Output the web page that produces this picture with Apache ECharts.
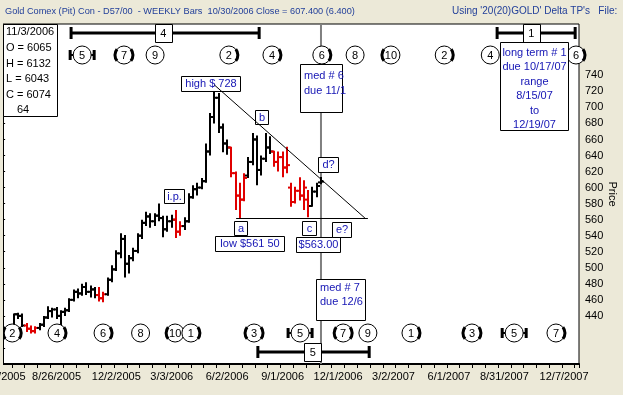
<!DOCTYPE html>
<html><head><meta charset="utf-8">
<script src="https://cdn.jsdelivr.net/npm/echarts@6/dist/echarts.min.js"></script>
<style>html,body{margin:0;padding:0;background:#ECE9D8;overflow:hidden}#c{width:623px;height:395px}</style>
</head><body><div id="c"></div>
<script>
// ---- data ----
const weekStartUTC = [2005, 4, 27];   // first weekly category: 5/27/2005
const weekCount = 136;
const tickLabels = ['5/27/2005','8/26/2005','12/2/2005','3/3/2006','6/2/2006','9/1/2006','12/1/2006','3/2/2007','6/1/2007','8/31/2007','12/7/2007'];
const firstBarWeek = 1;
const opens  = [418,421,426,442,440,428,424,421,425,429,438,446,448,440,445,447,460,470,468,476,470,473,466,462,467,485,498,518,536,505,512,521,540,556,564,558,565,562,548,558,560,545,552,558,588,598,600,608,645,688,712,675,655,650,618,590,585,615,632,660,622,636,650,645,632,638,625,600,582,596,590,585,577,595,606.5];
const highs  = [424,428,443,444,443,431,428,427,431,440,452,450,451,447,450,462,473,474,480,482,478,476,476,470,488,503,522,543,541,516,525,543,560,570,568,568,580,565,565,566,572,558,563,593,603,606,612,655,693,728,718,680,660,651,620,606,618,638,668,665,640,668,664,646,645,645,651,606,601,613,609,597,601,606,613.2];
const lows   = [415,418,424,436,426,420,418,418,422,426,436,438,436,428,440,445,458,462,465,466,463,462,458,457,465,482,496,512,488,493,508,518,536,552,550,552,558,538,545,550,537,540,547,556,586,590,598,606,640,680,668,644,641,613,572,561.5,583,612,628,603,615,632,642,626,620,613,618,576,580,584,572,563,576,588,604.3];
const closes = [421,426,442,440,428,424,421,425,429,438,446,448,440,445,447,460,470,468,476,470,473,466,462,467,485,498,518,536,505,512,521,540,556,564,558,565,562,548,558,560,545,552,558,588,598,600,608,645,688,712,675,655,650,618,590,585,612,632,660,622,636,650,645,632,638,625,628,582,596,590,600,577,595,602,607.4];
const downFlags = [0,0,0,0,0,1,1,1,0,0,0,0,0,0,0,0,0,0,0,0,0,0,1,1,0,0,0,0,0,0,0,0,0,0,0,0,0,0,0,0,1,1,0,0,0,0,0,0,0,0,0,0,0,1,1,1,1,0,0,0,0,0,0,1,1,1,1,1,1,1,1,1,0,0,0];

const topCycleWeeks  = [19,28.8,36.1,53.4,63.5,75.2,83,91.4,103.9,114.7,134.8];
const topCycleLabels = ['5','7','9','2','4','6','8','10','2','4','6'];
const topCycleMarks  = ['H','LR','','R','R','R','','L','R','','R'];
const botCycleWeeks  = [2.6,13.1,23.9,32.7,40.8,44.5,59.3,70.1,80.2,86,96.1,110.4,120.3,130.1];
const botCycleLabels = ['2','4','6','8','10','1','3','5','7','9','1','3','5','7'];
const botCycleMarks  = ['LR','R','R','','L','R','LR','H','LR','','R','LR','H','R'];

const rangeStarts = [16.4, 116.3, 60.2];
const rangeEnds   = [60.5, 134.6, 86.3];
const rangeLabelWeeks = [38, 124.3, 73.1];
const rangeLabels = ['4', '1', '5'];
const rangeRows   = ['top', 'top', 'bottom'];

const medWeek = 75;
const trendLine   = [[50, 728], [85.3, 562]];
const supportLine = [[55.1, 561.5], [86, 561.5]];

// ---- build ----
const categories = [];
const t0 = Date.UTC(weekStartUTC[0], weekStartUTC[1], weekStartUTC[2]);
for (let i = 0; i < weekCount; i++) {
  const d = new Date(t0 + i * 7 * 86400000);
  categories.push((d.getUTCMonth() + 1) + '/' + d.getUTCDate() + '/' + d.getUTCFullYear());
}
const FONT = '"Liberation Sans", Arial, sans-serif';
const BLUE = '#1414b4';
const bars = opens.map((o, i) => [firstBarWeek + i, o, highs[i], lows[i], closes[i], downFlags[i]]);

function txt(text, x, y, opts) {
  opts = opts || {};
  return {type: 'text', z: opts.z || 50, style: {text: text, x: x, y: y, fill: opts.fill || '#000',
    font: (opts.size || 11) + 'px ' + FONT, align: opts.align || 'left', textAlign: opts.align || 'left',
    verticalAlign: 'middle', textVerticalAlign: 'middle'}};
}
function box(x, y, w, h, lines, opts) {
  opts = opts || {};
  const out = [{type: 'rect', z: 49, shape: {x: x + 0.5, y: y + 0.5, width: w, height: h},
    style: {fill: '#fff', stroke: '#000', lineWidth: 1}}];
  const lh = opts.lh || 15;
  lines.forEach((s, i) => {
    const ty = y + (opts.top != null ? opts.top : h / 2 - (lines.length - 1) * lh / 2) + i * lh + 0.5;
    if (opts.align === 'left') out.push(txt(s, x + 4, ty, {fill: opts.fill || BLUE}));
    else out.push(txt(s, x + w / 2 + 0.5, ty, {fill: opts.fill || BLUE, align: 'center'}));
  });
  return out;
}

function cycleRender(rowOffset, labels, marks) {
  return function (params, api) {
    const i = api.value(1);
    const x = api.coord([api.value(0), 600])[0];
    const y = params.coordSys.y + rowOffset;
    const r = 9;
    const ch = [
      {type: 'circle', shape: {cx: x, cy: y, r: r}, style: {fill: '#fff', stroke: '#000', lineWidth: 1}},
      {type: 'text', style: {text: labels[i], x: x, y: y + 0.5, fill: '#000', font: '11px ' + FONT,
        align: 'center', textAlign: 'center', verticalAlign: 'middle', textVerticalAlign: 'middle'}}
    ];
    const m = marks[i];
    const arcSt = {stroke: '#000', lineWidth: 3, fill: 'none'};
    if (m.indexOf('L') >= 0) ch.push({type: 'arc', shape: {cx: x, cy: y, r: r, startAngle: Math.PI * 0.78, endAngle: Math.PI * 1.22, clockwise: true}, style: arcSt});
    if (m.indexOf('R') >= 0) ch.push({type: 'arc', shape: {cx: x, cy: y, r: r, startAngle: -Math.PI * 0.22, endAngle: Math.PI * 0.22, clockwise: true}, style: arcSt});
    if (m === 'H') {
      [-1, 1].forEach(s => {
        ch.push({type: 'line', shape: {x1: x + s * 12, y1: y - 5, x2: x + s * 12, y2: y + 5}, style: {stroke: '#000', lineWidth: 3}});
        ch.push({type: 'line', shape: {x1: x + s * 9, y1: y, x2: x + s * 12, y2: y}, style: {stroke: '#000', lineWidth: 2}});
      });
    }
    return {type: 'group', children: ch};
  };
}

const chart = echarts.init(document.getElementById('c'), null, {renderer: 'canvas'});

const graphics = [].concat(
  [{type: 'rect', z: 48, shape: {x: 0, y: 20, width: 3, height: 345}, style: {fill: '#ECE9D8'}},
   {type: 'line', z: 48, shape: {x1: 3.5, y1: 24, x2: 3.5, y2: 364}, style: {stroke: '#000', lineWidth: 1}}],
  [txt('Gold Comex (Pit) Con - D57/00  - WEEKLY Bars  10/30/2006 Close = 607.400 (6.400)', 5, 11, {fill: '#23409a', size: 9.2})],
  [txt("Using '20(20)GOLD' Delta TP's   File:", 452, 11, {fill: '#23409a', size: 10})],
  box(3, 24, 54, 92, [], {}),
  [txt('11/3/2006', 6, 32), txt('O = 6065', 6, 48), txt('H = 6132', 6, 64), txt('L = 6043', 6, 79), txt('C = 6074', 6, 95), txt('64', 17, 110)],
  box(181, 76, 59, 15, ['high $ 728']),
  box(255, 110, 13, 14, ['b']),
  box(164, 189, 20, 14, ['i.p.']),
  box(234, 221, 13, 14, ['a']),
  box(215, 236, 69, 15, ['low $561 50']),
  box(302, 221, 14, 14, ['c']),
  box(296, 237, 44, 15, ['$563.00']),
  box(318, 157, 20, 15, ['d?']),
  box(332, 222, 19, 15, ['e?']),
  box(300, 64, 42, 48, ['med # 6', 'due 11/1'], {align: 'left', top: 11}),
  box(316, 279, 49, 41, ['med # 7', 'due 12/6'], {align: 'left', top: 8, lh: 14}),
  box(500, 42, 68, 88, ['long term # 1', 'due 10/17/07', 'range', '8/15/07', 'to', '12/19/07'], {top: 10, lh: 14.5})
);

chart.setOption({
  backgroundColor: '#ECE9D8',
  animation: false,
  textStyle: {fontFamily: FONT},
  grid: {left: -1, right: 44, top: 24, bottom: 31, show: true, backgroundColor: '#fff', borderColor: '#000', borderWidth: 1,
         containLabel: false, outerBoundsMode: 'none'},
  xAxis: [
    {type: 'category', data: categories, boundaryGap: true,
     axisLine: {lineStyle: {color: '#000', width: 2}},
     axisTick: {show: true, interval: 2, length: 4, lineStyle: {color: '#000'}},
     axisLabel: {interval: (idx, val) => tickLabels.indexOf(val) >= 0, color: '#000', fontSize: 11, margin: 7, fontFamily: FONT},
     splitLine: {show: false}},
    {type: 'value', min: -0.5, max: weekCount - 0.5, show: false}
  ],
  yAxis: {type: 'value', position: 'right', min: 380, max: 804, interval: 20,
    name: 'Price', nameLocation: 'middle', nameRotate: -90, nameGap: 28, nameMoveOverlap: false,
    nameTextStyle: {color: '#000', fontSize: 11, fontFamily: FONT},
    axisLine: {show: true, lineStyle: {color: '#000', width: 1}},
    axisTick: {show: true, length: 4, lineStyle: {color: '#000'}},
    minorTick: {show: true, splitNumber: 4, length: 2, lineStyle: {color: '#000'}},
    axisLabel: {color: '#000', fontSize: 11, margin: 6, fontFamily: FONT,
      formatter: v => (v >= 440 && v <= 740) ? String(v) : '', showMaxLabel: false},
    splitLine: {show: false}},
  graphic: {elements: graphics},
  series: [
    {type: 'custom', name: 'med', xAxisIndex: 1, z: 1, data: [[medWeek]],
     renderItem: (params, api) => {
       const x = api.coord([api.value(0), 600])[0];
       const cs = params.coordSys;
       return {type: 'line', shape: {x1: x, y1: cs.y, x2: x, y2: cs.y + cs.height}, style: {stroke: '#808080', lineWidth: 2}};
     }},
    {type: 'custom', name: 'Gold weekly', xAxisIndex: 1, z: 2, data: bars, encode: {x: 0, y: [1, 2, 3, 4]},
     renderItem: (params, api) => {
       const w = api.value(0);
       const pH = api.coord([w, api.value(2)]), pL = api.coord([w, api.value(3)]);
       const pO = api.coord([w, api.value(1)]), pC = api.coord([w, api.value(4)]);
       const cx = Math.round(pH[0]);
       const st = {stroke: api.value(5) ? '#e00000' : '#000', lineWidth: 2};
       return {type: 'group', children: [
         {type: 'line', shape: {x1: cx, y1: pH[1], x2: cx, y2: pL[1]}, style: st},
         {type: 'line', shape: {x1: cx - 3, y1: pO[1], x2: cx, y2: pO[1]}, style: st},
         {type: 'line', shape: {x1: cx, y1: pC[1], x2: cx + 3, y2: pC[1]}, style: st}]};
     }},
    {type: 'custom', name: 'support', xAxisIndex: 1, z: 3, data: [supportLine[0].concat(supportLine[1])],
     renderItem: (params, api) => {
       const a = api.coord([api.value(0), api.value(1)]), b = api.coord([api.value(2), api.value(3)]);
       return {type: 'line', shape: {x1: a[0], y1: Math.round(a[1]) + 0.5, x2: b[0], y2: Math.round(b[1]) + 0.5}, style: {stroke: '#000', lineWidth: 1}};
     }},
    {type: 'custom', name: 'cyclesTop', xAxisIndex: 1, z: 4,
     data: topCycleWeeks.map((w, i) => [w, i]), renderItem: cycleRender(31, topCycleLabels, topCycleMarks)},
    {type: 'custom', name: 'cyclesBottom', xAxisIndex: 1, z: 4,
     data: botCycleWeeks.map((w, i) => [w, i]), renderItem: cycleRender(309, botCycleLabels, botCycleMarks)},
    {type: 'custom', name: 'ranges', xAxisIndex: 1, z: 4,
     data: rangeStarts.map((s, i) => [s, rangeEnds[i], rangeLabelWeeks[i], i]),
     renderItem: (params, api) => {
       const i = api.value(3);
       const x1 = api.coord([api.value(0), 600])[0], x2 = api.coord([api.value(1), 600])[0];
       const xm = api.coord([api.value(2), 600])[0];
       const cs = params.coordSys;
       const y = rangeRows[i] === 'top' ? cs.y + 9 : cs.y + cs.height - 12;
       const st = {stroke: '#000', lineWidth: 3};
       return {type: 'group', children: [
         {type: 'line', shape: {x1: x1, y1: y, x2: x2, y2: y}, style: st},
         {type: 'line', shape: {x1: x1, y1: y - 6, x2: x1, y2: y + 6}, style: st},
         {type: 'line', shape: {x1: x2, y1: y - 6, x2: x2, y2: y + 6}, style: st},
         {type: 'rect', shape: {x: Math.round(xm - 8.5) + 0.5, y: Math.round(y - 9) + 0.5, width: 17, height: 18}, style: {fill: '#fff', stroke: '#000', lineWidth: 1}},
         {type: 'text', style: {text: rangeLabels[i], x: xm, y: y + 0.5, fill: '#000', font: '11px ' + FONT,
           align: 'center', textAlign: 'center', verticalAlign: 'middle', textVerticalAlign: 'middle'}}]};
     }},
    {type: 'custom', name: 'trend', xAxisIndex: 1, z: 60, zlevel: 0, data: [trendLine[0].concat(trendLine[1])],
     renderItem: (params, api) => {
       const a = api.coord([api.value(0), api.value(1)]), b = api.coord([api.value(2), api.value(3)]);
       return {type: 'line', z2: 100, shape: {x1: a[0], y1: a[1], x2: b[0], y2: b[1]}, style: {stroke: '#000', lineWidth: 1}};
     }}
  ]
});
</script>
</body></html>
